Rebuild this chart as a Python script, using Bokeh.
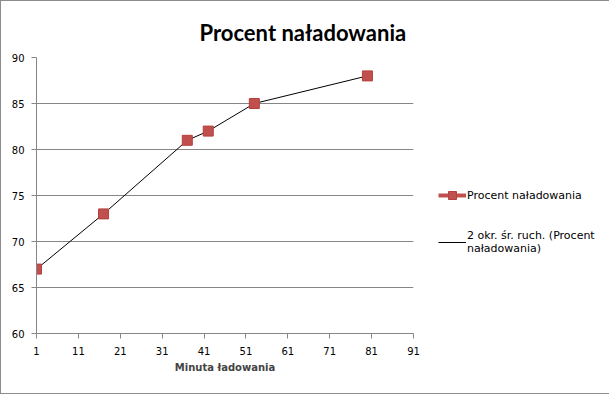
from bokeh.plotting import figure
from bokeh.models import Legend, LegendItem, Range1d, FixedTicker, Title
from bokeh.embed import file_html
from bokeh.resources import INLINE

minutes = [1, 17, 37, 42, 53, 80]
percent = [67, 73, 81, 82, 85, 88]
x_ticks = [1, 11, 21, 31, 41, 51, 61, 71, 81, 91]
y_ticks = [60, 65, 70, 75, 80, 85, 90]

GRAY = "#868686"
W, H = 607, 392
FL, FR, FT, FB = 35, 412, 56, 332

p = figure(frame_width=FR - FL, frame_height=FB - FT, output_backend="svg",
           toolbar_location=None, x_range=Range1d(1, 91), y_range=Range1d(60, 90))
p.styles = {"border": "1px solid #8c8c8c"}
p.min_border_left = FL
p.min_border_right = W - FR
p.min_border_top = FT
p.min_border_bottom = H - FB
p.outline_line_color = None
p.background_fill_color = "white"
p.border_fill_color = "white"

p.xgrid.visible = False
p.ygrid.grid_line_color = GRAY
p.ygrid.grid_line_width = 1
p.ygrid.ticker = FixedTicker(ticks=y_ticks)

for ax in (p.xaxis[0], p.yaxis[0]):
    ax.axis_line_color = GRAY
    ax.major_tick_line_color = GRAY
    ax.minor_tick_line_color = None
    ax.major_tick_in = 0
    ax.major_tick_out = 5
    ax.major_label_text_font = "DejaVu Sans"
    ax.major_label_text_font_size = "10px"
    ax.major_label_text_color = "#000000"
p.xaxis[0].ticker = FixedTicker(ticks=x_ticks)
p.yaxis[0].ticker = FixedTicker(ticks=y_ticks)
p.xaxis[0].major_label_standoff = 8
p.yaxis[0].major_label_standoff = 7
p.xaxis[0].axis_label = "Minuta ładowania"
p.xaxis[0].axis_label_text_font = "DejaVu Sans"
p.xaxis[0].axis_label_text_font_size = "10px"
p.xaxis[0].axis_label_text_font_style = "bold"
p.xaxis[0].axis_label_standoff = 4

t = Title(text="Procent naładowania", align="left", offset=163, standoff=24,
          text_font="Lato", text_font_size="22px", text_font_style="bold",
          text_color="black")
p.add_layout(t, "above")

ma = p.line(minutes, percent, line_color="black", line_width=1)
pts = p.scatter(minutes, percent, marker="square", size=10,
                fill_color="#C0504D", line_color="#B5403D")
leg_line = p.line(minutes, percent, line_color="#C0504D", line_width=4, visible=False)

legend = Legend(items=[
    LegendItem(label="Procent naładowania", renderers=[leg_line, pts]),
    LegendItem(label="2 okr. śr. ruch. (Procent\nnaładowania)", renderers=[ma]),
], location=(25, 78), border_line_color=None, background_fill_alpha=0,
    label_text_font="DejaVu Sans", label_text_font_size="11px",
    label_text_color="black",
    glyph_width=28, spacing=24, label_standoff=1, margin=0, padding=0)
p.add_layout(legend, "right")

open("out.html", "w").write(file_html(p, INLINE))
